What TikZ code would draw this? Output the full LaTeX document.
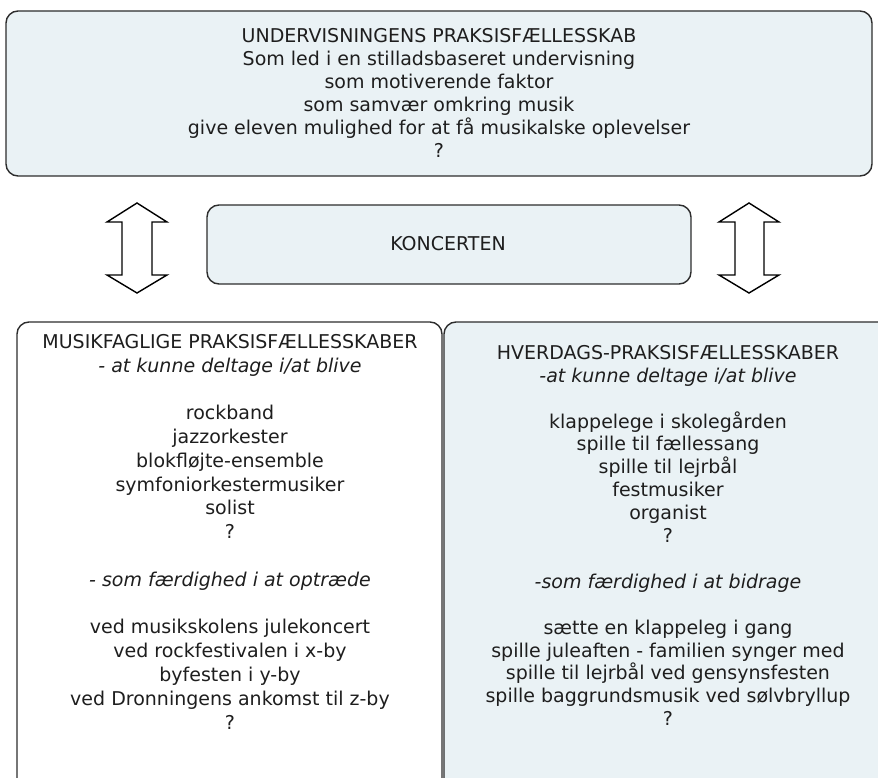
\documentclass[tikz,border=0pt]{standalone}
\usepackage{fontspec}
\setmainfont{DejaVu Sans}
\definecolor{boxfill}{RGB}{234,242,245}
\definecolor{boxline}{RGB}{45,45,45}
\definecolor{txt}{RGB}{30,30,30}
\begin{document}
\begin{tikzpicture}[x=1pt,y=-1pt,
  panel/.style={draw=boxline,line width=1.4pt,rounded corners=12pt},
  label/.style={anchor=north,inner sep=0pt,align=center,text=txt},
  blockarrow/.style={draw=black,line width=1.4pt,fill=white,line join=miter}]
\useasboundingbox (0,0) rectangle (878,778);
\clip (0,0) rectangle (878,778);
% top box
\draw[panel,fill=boxfill] (6,11) rectangle (872,176);
\node[label,font=\fontsize{19}{23}\selectfont] (top) at (439,28) {UNDERVISNINGENS PRAKSISFÆLLESSKAB\\Som led i en stilladsbaseret undervisning\\som motiverende faktor\\som samvær omkring musik\\give eleven mulighed for at få musikalske oplevelser\\?};
% koncerten
\draw[panel,fill=boxfill] (207,205) rectangle (691,284);
\node[label,font=\fontsize{19}{23}\selectfont] (konc) at (448,236.5) {KONCERTEN};
% arrows
\draw[blockarrow] (137,203) -- (167,222) -- (152,222) -- (152,275) -- (167,275) -- (137,293) -- (107,275) -- (122,275) -- (122,222) -- (107,222) -- cycle;
\draw[blockarrow] (749,203) -- (779,222) -- (764,222) -- (764,275) -- (779,275) -- (749,293) -- (719,275) -- (735,275) -- (735,222) -- (719,222) -- cycle;
% bottom boxes
\draw[panel,fill=white] (17,322) rectangle (442,790);
\draw[panel,fill=boxfill] (444,322) rectangle (900,790);
\node[label,font=\fontsize{19}{23.8}\selectfont] (left) at (230,334) {MUSIKFAGLIGE PRAKSISFÆLLESSKABER\\\textit{- at kunne deltage i/at blive}\\[23.8pt]rockband\\jazzorkester\\blokfløjte-ensemble\\symfoniorkestermusiker\\solist\\?\\[23.8pt]\textit{- som færdighed i at optræde}\\[23.8pt]ved musikskolens julekoncert\\ved rockfestivalen i x-by\\byfesten i y-by\\ved Dronningens ankomst til z-by\\?};
\node[label,font=\fontsize{19}{22.9}\selectfont] (right) at (668,345) {HVERDAGS-PRAKSISFÆLLESSKABER\\\textit{-at kunne deltage i/at blive}\\[22.9pt]klappelege i skolegården\\spille til fællessang\\spille til lejrbål\\festmusiker\\organist\\?\\[22.9pt]\textit{-som færdighed i at bidrage}\\[22.9pt]sætte en klappeleg i gang\\spille juleaften - familien synger med\\spille til lejrbål ved gensynsfesten\\spille baggrundsmusik ved sølvbryllup\\?};
\end{tikzpicture}
\end{document}
